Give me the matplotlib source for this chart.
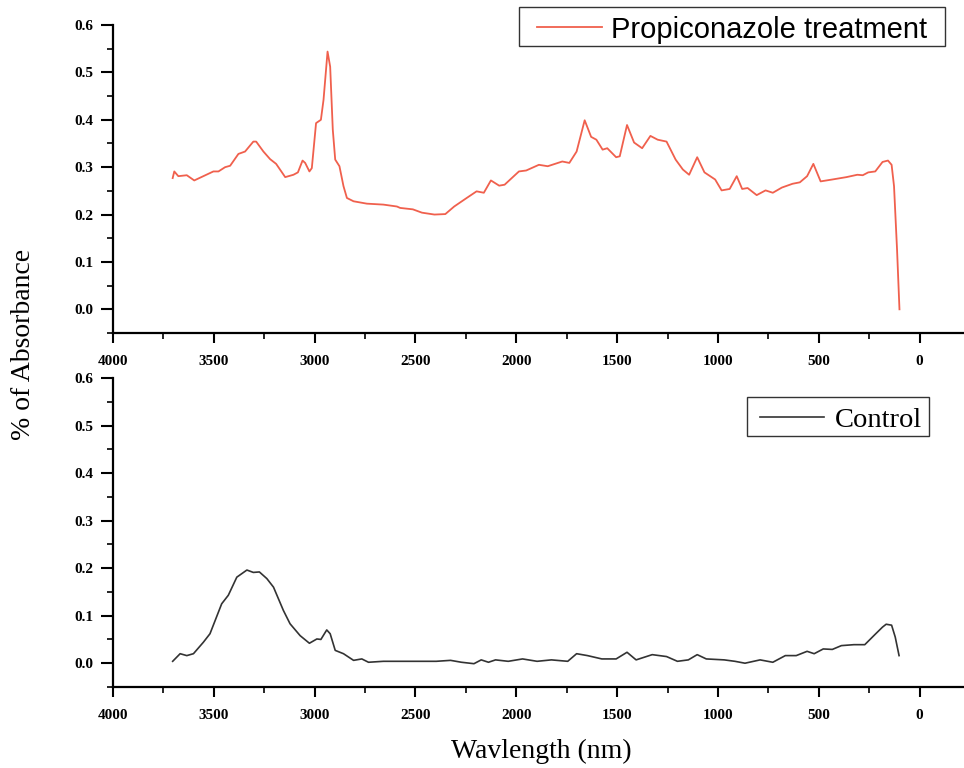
import numpy as np
import matplotlib.pyplot as plt
from matplotlib.ticker import MultipleLocator
from matplotlib.patches import Rectangle

treat_x = [3704, 3696, 3676, 3634, 3597, 3552, 3502, 3477, 3444, 3419, 3378, 3345,
           3304, 3290, 3254, 3221, 3191, 3146, 3105, 3083, 3060, 3047, 3026, 3014,
           2993, 2969, 2956, 2936, 2923, 2910, 2898, 2877, 2857, 2840, 2807, 2741,
           2659, 2592, 2576, 2513, 2468, 2406, 2352, 2308, 2246, 2197, 2161, 2126,
           2085, 2058, 1987, 1951, 1888, 1844, 1772, 1737, 1701, 1661, 1629, 1603,
           1572, 1549, 1505, 1487, 1451, 1416, 1376, 1335, 1299, 1255, 1210, 1174,
           1143, 1103, 1067, 1014, 982, 942, 907, 880, 853, 808, 764, 728, 683,
           630, 594, 558, 527, 491, 433, 363, 309, 282, 255, 220, 184, 157, 139,
           127, 112, 100]
treat_y = [0.277, 0.291, 0.281, 0.283, 0.272, 0.281, 0.291, 0.291, 0.300, 0.303, 0.328, 0.333,
           0.354, 0.354, 0.333, 0.317, 0.307, 0.279, 0.284, 0.289, 0.314, 0.309, 0.291, 0.298,
           0.393, 0.400, 0.442, 0.544, 0.512, 0.379, 0.316, 0.302, 0.260, 0.235, 0.228, 0.223,
           0.221, 0.217, 0.214, 0.211, 0.204, 0.200, 0.201, 0.217, 0.235, 0.249, 0.246, 0.272,
           0.261, 0.263, 0.291, 0.293, 0.305, 0.302, 0.312, 0.309, 0.333, 0.399, 0.364, 0.358,
           0.337, 0.340, 0.321, 0.323, 0.389, 0.352, 0.340, 0.366, 0.358, 0.354, 0.316, 0.295,
           0.284, 0.321, 0.289, 0.274, 0.251, 0.254, 0.281, 0.254, 0.256, 0.241, 0.251, 0.246, 0.257,
           0.265, 0.268, 0.281, 0.307, 0.270, 0.274, 0.279, 0.284, 0.283, 0.289, 0.291, 0.311, 0.314, 0.305,
           0.260, 0.126, 0.0]

ctrl_x = [3704, 3667, 3634, 3601, 3552, 3519, 3461, 3428, 3386, 3336, 3304, 3274,
          3237, 3204, 3155, 3122, 3072, 3026, 2989, 2969, 2940, 2923, 2898, 2857,
          2807, 2766, 2733, 2659, 2592, 2576, 2486, 2397, 2326, 2272, 2210, 2174,
          2138, 2103, 2040, 1969, 1897, 1826, 1745, 1701, 1647, 1576, 1505, 1451,
          1406, 1326, 1255, 1201, 1147, 1103, 1058, 969, 916, 866, 791, 728, 666,
          612, 558, 523, 478, 433, 388, 326, 272, 220, 184, 166, 139, 121, 102]
ctrl_y = [0.004, 0.020, 0.016, 0.020, 0.044, 0.062, 0.125, 0.143, 0.181, 0.196, 0.191, 0.192,
          0.178, 0.160, 0.111, 0.083, 0.058, 0.042, 0.051, 0.050, 0.070, 0.062, 0.027, 0.020,
          0.006, 0.009, 0.002, 0.004, 0.004, 0.004, 0.004, 0.004, 0.006, 0.002, -0.001, 0.007,
          0.002, 0.007, 0.004, 0.009, 0.004, 0.007, 0.004, 0.020, 0.016, 0.009, 0.009, 0.023,
          0.007, 0.018, 0.014, 0.004, 0.007, 0.018, 0.009, 0.007, 0.004, 0.000, 0.007, 0.002, 0.016,
          0.016, 0.025, 0.020, 0.030, 0.029, 0.037, 0.039, 0.039, 0.061, 0.076, 0.082, 0.080, 0.055, 0.016]

serif = 'Liberation Serif'
W, H = 964, 768
fig = plt.figure(figsize=(W / 100, H / 100), dpi=100)
ax1 = fig.add_axes([0.1172, 0.5664, 0.8828, 0.401])
ax2 = fig.add_axes([0.1172, 0.1055, 0.8828, 0.4023])

ax1.plot(treat_x, treat_y, color='#f0604d', lw=1.3, label='Propiconazole treatment')
ax2.plot(ctrl_x, ctrl_y, color='#333333', lw=1.2, label='Control')

for ax in (ax1, ax2):
    ax.set_xlim(4000, -220)
    ax.set_ylim(-0.05, 0.6)
    ax.spines['top'].set_visible(False)
    ax.spines['right'].set_visible(False)
    ax.spines['left'].set_linewidth(1.6)
    ax.spines['bottom'].set_linewidth(1.6)
    ax.xaxis.set_major_locator(MultipleLocator(500))
    ax.xaxis.set_minor_locator(MultipleLocator(250))
    ax.set_yticks([0.0, 0.1, 0.2, 0.3, 0.4, 0.5, 0.6])
    ax.yaxis.set_minor_locator(MultipleLocator(0.05))
    ax.tick_params(axis='y', which='major', direction='out', length=9, width=1.5, pad=5)
    ax.tick_params(axis='x', which='major', direction='out', length=7.5, width=1.5, pad=8)
    ax.tick_params(which='minor', direction='out', length=4, width=1.2)
    ax.yaxis.set_major_formatter(plt.FuncFormatter(lambda v, p: f'{v:.1f}'))
    ax.xaxis.set_major_formatter(plt.FuncFormatter(lambda v, p: f'{v:.0f}'))
    for lab in ax.get_xticklabels() + ax.get_yticklabels():
        lab.set_fontfamily(serif)
        lab.set_fontweight('bold')
        lab.set_fontsize(11)

# legends: content without frame, boxes drawn separately
ax1.legend(loc='center right', bbox_to_anchor=(927 / W, 1 - 29.5 / H),
           bbox_transform=fig.transFigure, borderaxespad=0, borderpad=0,
           frameon=False, handlelength=2.23, handletextpad=0.31,
           prop={'family': 'Liberation Sans', 'size': 21})
ax2.legend(loc='center right', bbox_to_anchor=(922 / W, 1 - 420 / H),
           bbox_transform=fig.transFigure, borderaxespad=0, borderpad=0,
           frameon=False, handlelength=2.25, handletextpad=0.38,
           prop={'family': serif, 'size': 20.5})
for (x0, y0, x1, y1) in [(519, 7, 945, 46), (747, 397, 929, 436)]:
    fig.patches.append(Rectangle((x0 / W, 1 - y1 / H), (x1 - x0) / W, (y1 - y0) / H,
                                 transform=fig.transFigure, fill=False,
                                 edgecolor='#333333', lw=1.0))

fig.text(0.024, 0.552, '% of Absorbance', rotation=90, ha='center', va='center',
         family=serif, fontsize=20)
fig.text(0.562, 0.021, 'Wavlength (nm)', ha='center', va='center',
         family=serif, fontsize=20)

fig.savefig('out.png', dpi=100)
